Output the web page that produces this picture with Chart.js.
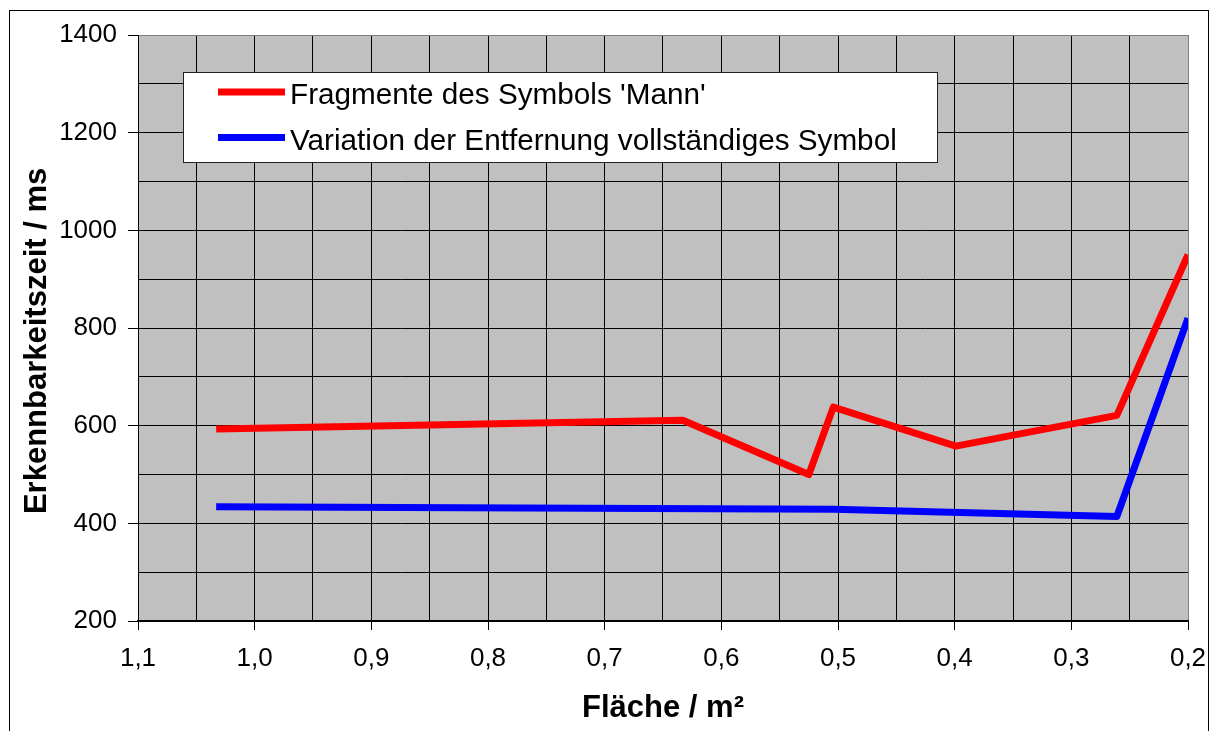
<!DOCTYPE html>
<html>
<head>
<meta charset="utf-8">
<script src="https://cdn.jsdelivr.net/npm/chart.js@4/dist/chart.umd.min.js"></script>
<style>
html,body{margin:0;padding:0;background:#fff;}
#wrap{width:1211px;height:731px;position:relative;}
</style>
</head>
<body>
<div id="wrap"><canvas id="c" width="1211" height="731"></canvas></div>
<script>
// ---- data ----
const fragX = [1.033, 0.633, 0.525, 0.504, 0.399, 0.261, 0.2];
const fragY = [593, 611, 500, 638, 558, 621, 950];
const fullX = [1.033, 0.504, 0.261, 0.2];
const fullY = [434, 429, 414, 820];
const seriesNames = ["Fragmente des Symbols 'Mann'", "Variation der Entfernung vollständiges Symbol"];
const xTitle = "Fläche / m²";
const yTitle = "Erkennbarkeitszeit / ms";
const xMin = 0.2, xMax = 1.1, xStep = 0.05, xLabelStep = 0.1;
const yMin = 200, yMax = 1400, yStep = 100, yLabelStep = 200;

const FONT = "'Liberation Sans', Arial, sans-serif";

function toPts(xs, ys){ return xs.map((x,i)=>({x:x, y:ys[i]})); }
function isXLabel(v){ const r = v/xLabelStep; return Math.abs(r-Math.round(r))<1e-6; }
function isYLabel(v){ return Math.abs(v % yLabelStep) < 1e-6; }

const bgPlugin = {
  id:'bg',
  beforeDraw(chart){
    const ctx = chart.ctx, a = chart.chartArea;
    ctx.save();
    ctx.fillStyle = '#fff';
    ctx.fillRect(0,0,chart.width,chart.height);
    ctx.strokeStyle = '#000';
    ctx.lineWidth = 1;
    ctx.strokeRect(9.5, 10.5, 1199, 740);
    ctx.fillStyle = '#c0c0c0';
    ctx.fillRect(a.left, a.top, a.right-a.left, a.bottom-a.top);
    ctx.restore();
  }
};

const legendPlugin = {
  id:'boxLegend',
  afterDatasetsDraw(chart){
    const ctx = chart.ctx, a = chart.chartArea;
    const bx = a.left + 45, by = a.top + 37, bw = 754, bh = 90;
    ctx.save();
    ctx.fillStyle = '#fff';
    ctx.fillRect(bx, by, bw, bh);
    ctx.strokeStyle = '#222';
    ctx.lineWidth = 1;
    ctx.strokeRect(bx+0.5, by+0.5, bw, bh);
    ctx.font = '29.7px ' + FONT;
    ctx.textBaseline = 'alphabetic';
    ctx.textAlign = 'left';
    chart.data.datasets.forEach((ds, i) => {
      const cy = by + 20 + i*45.5;
      ctx.strokeStyle = ds.borderColor;
      ctx.lineWidth = 7;
      ctx.lineCap = 'butt';
      ctx.beginPath();
      ctx.moveTo(bx+35, cy);
      ctx.lineTo(bx+102, cy);
      ctx.stroke();
      ctx.fillStyle = '#000';
      ctx.fillText(ds.label, bx+107, cy+12);
    });
    ctx.restore();
  }
};

new Chart(document.getElementById('c'), {
  type:'line',
  data:{
    datasets:[
      {label:seriesNames[0], data:toPts(fragX, fragY), borderColor:'#ff0000', backgroundColor:'#ff0000',
       borderWidth:7, pointRadius:0, tension:0, borderJoinStyle:'round', clip:0},
      {label:seriesNames[1], data:toPts(fullX, fullY), borderColor:'#0000ff', backgroundColor:'#0000ff',
       borderWidth:7, pointRadius:0, tension:0, borderJoinStyle:'round', clip:0}
    ]
  },
  options:{
    responsive:false,
    animation:false,
    events:[],
    layout:{padding:{left:0, top:35, right:23, bottom:0}},
    plugins:{legend:{display:false}, tooltip:{enabled:false}},
    scales:{
      x:{
        type:'linear', reverse:true, min:xMin, max:xMax,
        afterFit(s){ s.height = 110; s.paddingLeft = 0; s.paddingRight = 0; },
        ticks:{
          stepSize:xStep, autoSkip:false, maxRotation:0, minRotation:0,
          color:'#000', font:{family:FONT, size:26}, padding:13,
          callback(v){ return isXLabel(v) ? v.toFixed(1).replace('.', ',') : ''; }
        },
        grid:{
          color(c){ return (c.tick && Math.abs(c.tick.value - xMin) < 1e-6) ? '#808080' : '#000'; },
          tickColor(c){ return (c.tick && isXLabel(c.tick.value)) ? '#000' : 'rgba(0,0,0,0)'; },
          lineWidth:1, tickLength:9, drawTicks:true
        },
        border:{color:'#000', width:2},
        title:{display:true, text:xTitle, color:'#000', font:{family:FONT, size:31, weight:'bold'}, padding:{top:0, bottom:4}}
      },
      y:{
        type:'linear', min:yMin, max:yMax,
        afterFit(s){ s.width = 138; s.paddingTop = 0; s.paddingBottom = 0; },
        ticks:{
          stepSize:yStep, autoSkip:false, color:'#000', font:{family:FONT, size:26}, padding:11,
          callback(v){ return isYLabel(v) ? String(v) : ''; }
        },
        grid:{
          color(c){ return (c.tick && Math.abs(c.tick.value - yMax) < 1e-6) ? '#808080' : '#000'; },
          tickColor(c){ return (c.tick && isYLabel(c.tick.value)) ? '#000' : 'rgba(0,0,0,0)'; },
          lineWidth:1, tickLength:10, drawTicks:true
        },
        border:{color:'#000', width:1},
        title:{display:true, text:yTitle + '   ', color:'#000', font:{family:FONT, size:31, weight:'bold'}, padding:{top:19, bottom:0}}
      }
    }
  },
  plugins:[bgPlugin, legendPlugin]
});
</script>
</body>
</html>
